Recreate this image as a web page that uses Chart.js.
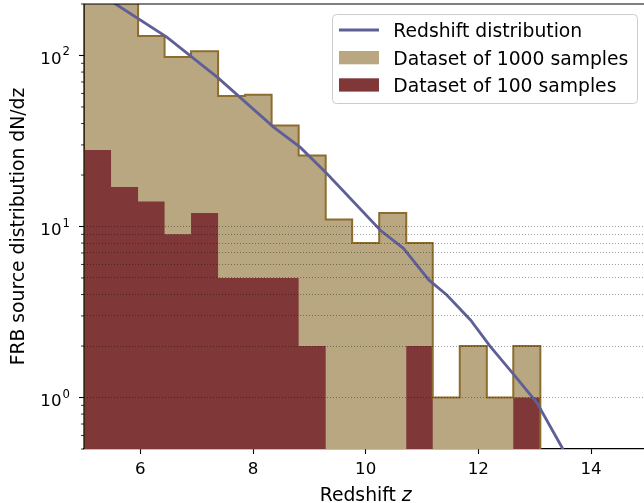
<!DOCTYPE html>
<html lang="en">
<head>
    <meta charset="UTF-8">
    <title>FRB redshift distribution</title>
    <script src="https://cdn.jsdelivr.net/npm/chart.js"></script>
    <style>
        html, body { margin: 0; padding: 0; background: #fff; }
        canvas { display: block; }
    </style>
</head>
<body>
    <canvas id="chart" width="644" height="503"></canvas>

    <script>
        // histogram bin edges (redshift z)
        const binEdges = [5.00, 5.48, 5.96, 6.43, 6.90, 7.38, 7.86, 8.33, 8.81, 9.29,
                          9.76, 10.24, 10.72, 11.19, 11.67, 12.15, 12.62, 13.10];
        const counts1000 = [228, 211, 130, 98, 106, 58, 59, 39, 26, 11, 8, 12, 8, 1, 2, 1, 2];
        const counts100  = [28, 17, 14, 9, 12, 5, 5, 5, 2, 0, 0, 0, 2, 0, 0, 0, 1];

        // model curve dN/dz
        const curveZ = [5.00, 5.56, 6.47, 7.38, 8.37, 8.84, 9.31, 10.26, 10.67, 11.12,
                        11.44, 11.86, 12.21, 12.63, 13.04, 13.49, 13.60];
        const curveN = [260, 200, 128, 74, 38, 29, 20.4, 9.5, 7.45, 4.87,
                        3.98, 2.84, 1.99, 1.36, 0.93, 0.507, 0.42];

        const xTicks = [6, 8, 10, 12, 14];
        const yMajor = [1, 10, 100];
        const yMinor = [0.5, 0.6, 0.7, 0.8, 0.9, 2, 3, 4, 5, 6, 7, 8, 9,
                        20, 30, 40, 50, 60, 70, 80, 90, 200];

        const labels = ['Redshift distribution', 'Dataset of 1000 samples', 'Dataset of 100 samples'];
        const colTan = '#b9a781';
        const colEdge = '#8c6d2e';
        const colRed = '#7f3837';
        const colCurve = '#5f5f97';
        const FLOOR = 0.01; // empty bins sit below the axis

        function stepPoints(counts) {
            const pts = [{x: binEdges[0], y: FLOOR}];
            counts.forEach((c, i) => pts.push({x: binEdges[i], y: c > 0 ? c : FLOOR}));
            const last = counts[counts.length - 1];
            pts.push({x: binEdges[binEdges.length - 1], y: last > 0 ? last : FLOOR});
            pts.push({x: binEdges[binEdges.length - 1], y: FLOOR});
            return pts;
        }

        Chart.defaults.font.family = 'DejaVu Sans';
        Chart.defaults.font.size = 16.67;
        Chart.defaults.color = '#000';

        const FONT = '16.67px "DejaVu Sans"';
        const BIG = '18.75px "DejaVu Sans"';

        const decorPlugin = {
            id: 'decor',
            afterDraw(chart) {
                const ctx = chart.ctx;
                const area = chart.chartArea;
                const y = chart.scales.y;
                const x = chart.scales.x;
                ctx.save();

                // spines
                ctx.strokeStyle = '#000';
                ctx.lineWidth = 1.2;
                ctx.beginPath();
                ctx.moveTo(area.left, area.bottom);
                ctx.lineTo(area.left, area.top);
                ctx.lineTo(area.right, area.top);
                ctx.stroke();

                // y ticks and labels
                y.ticks.forEach(t => {
                    const py = y.getPixelForValue(t.value);
                    const len = t.major ? 5 : 3;
                    ctx.lineWidth = t.major ? 1.1 : 0.8;
                    ctx.beginPath();
                    ctx.moveTo(area.left - len, py);
                    ctx.lineTo(area.left, py);
                    ctx.stroke();
                    if (t.major) {
                        const exp = String(Math.round(Math.log10(t.value)));
                        ctx.font = FONT;
                        const wBase = ctx.measureText('10').width;
                        ctx.font = '11.7px "DejaVu Sans"';
                        const wExp = ctx.measureText(exp).width;
                        const x0 = 70 - wBase - wExp - 1;
                        ctx.fillStyle = '#000';
                        ctx.textBaseline = 'alphabetic';
                        ctx.textAlign = 'left';
                        ctx.font = FONT;
                        ctx.fillText('10', x0, py + 8.3);
                        ctx.font = '11.7px "DejaVu Sans"';
                        ctx.fillText(exp, x0 + wBase + 1, py);
                    }
                });

                // x title with italic z
                ctx.font = BIG;
                const part1 = 'Redshift ';
                const w1 = ctx.measureText(part1).width;
                ctx.font = 'italic ' + BIG;
                const w2 = ctx.measureText('z').width;
                const cx = x.getPixelForValue(10);
                const sx = cx - (w1 + w2) / 2;
                ctx.fillStyle = '#000';
                ctx.textAlign = 'left';
                ctx.textBaseline = 'alphabetic';
                ctx.font = BIG;
                ctx.fillText(part1, sx, 501);
                ctx.font = 'italic ' + BIG;
                ctx.fillText('z', sx + w1, 501);

                // legend
                const bx = 332.5, by = 14.5, bw = 305, bh = 89, r = 4;
                ctx.beginPath();
                ctx.moveTo(bx + r, by);
                ctx.arcTo(bx + bw, by, bx + bw, by + bh, r);
                ctx.arcTo(bx + bw, by + bh, bx, by + bh, r);
                ctx.arcTo(bx, by + bh, bx, by, r);
                ctx.arcTo(bx, by, bx + bw, by, r);
                ctx.closePath();
                ctx.fillStyle = 'rgba(255,255,255,0.8)';
                ctx.fill();
                ctx.strokeStyle = '#cccccc';
                ctx.lineWidth = 1;
                ctx.stroke();

                const rows = [30, 57.7, 85];
                // line handle
                ctx.strokeStyle = colCurve;
                ctx.lineWidth = 2.8;
                ctx.beginPath();
                ctx.moveTo(339, rows[0]);
                ctx.lineTo(379, rows[0]);
                ctx.stroke();
                // patches
                ctx.fillStyle = colTan;
                ctx.fillRect(339, rows[1] - 6.7, 40, 13.3);
                ctx.fillStyle = colRed;
                ctx.fillRect(339, rows[2] - 6.7, 40, 13.3);

                ctx.fillStyle = '#000';
                ctx.font = BIG;
                labels.forEach((txt, i) => ctx.fillText(txt, 393.3, rows[i] + 6.9));

                ctx.restore();
            }
        };

        const ctx = document.getElementById('chart').getContext('2d');

        new Chart(ctx, {
            type: 'line',
            data: {
                datasets: [
                    {
                        label: labels[1] + ' fill',
                        data: stepPoints(counts1000),
                        stepped: 'before',
                        fill: 'start',
                        backgroundColor: colTan,
                        borderWidth: 0,
                        pointRadius: 0,
                        order: 4
                    },
                    {
                        label: labels[2],
                        data: stepPoints(counts100),
                        stepped: 'before',
                        fill: 'start',
                        backgroundColor: colRed,
                        borderWidth: 0,
                        pointRadius: 0,
                        order: 3
                    },
                    {
                        label: labels[1],
                        data: stepPoints(counts1000),
                        stepped: 'before',
                        fill: false,
                        borderColor: colEdge,
                        borderWidth: 2,
                        pointRadius: 0,
                        order: 2
                    },
                    {
                        label: labels[0],
                        data: curveZ.map((z, i) => ({x: z, y: curveN[i]})),
                        fill: false,
                        borderColor: colCurve,
                        borderWidth: 2.8,
                        pointRadius: 0,
                        tension: 0,
                        order: 1
                    }
                ]
            },
            options: {
                responsive: false,
                animation: false,
                layout: { padding: { top: 4, left: 0, right: 0, bottom: 0 } },
                plugins: {
                    legend: { display: false },
                    tooltip: { enabled: false }
                },
                scales: {
                    x: {
                        type: 'linear',
                        min: 5,
                        max: 14.94,
                        offset: false,
                        afterBuildTicks: s => { s.ticks = xTicks.map(v => ({value: v})); },
                        afterFit: s => { s.height = 54; },
                        grid: {
                            drawOnChartArea: false,
                            drawTicks: true,
                            tickLength: 5,
                            tickColor: '#000',
                            tickWidth: 1.1
                        },
                        border: { display: true, color: '#000', width: 1.2 },
                        ticks: { padding: 6, color: '#000', maxRotation: 0 }
                    },
                    y: {
                        type: 'logarithmic',
                        min: 0.5,
                        max: 200,
                        afterBuildTicks: s => {
                            s.ticks = yMinor.concat(yMajor).sort((a, b) => a - b)
                                .map(v => ({value: v, major: yMajor.includes(v)}));
                        },
                        afterFit: s => { s.width = 84; },
                        grid: {
                            z: 1,
                            drawTicks: false,
                            lineWidth: 0.9,
                            color: c => {
                                const v = c.tick ? c.tick.value : 0;
                                return (v >= 1 && v <= 10) ? 'rgba(0,0,0,0.42)' : 'rgba(0,0,0,0)';
                            }
                        },
                        border: { display: false, dash: [1, 2] },
                        ticks: { display: false },
                        title: {
                            display: true,
                            text: 'FRB source distribution dN/dz',
                            font: { size: 18.75 },
                            padding: { top: 8, bottom: 0 },
                            color: '#000'
                        }
                    }
                }
            },
            plugins: [decorPlugin]
        });
    </script>
</body>
</html>
